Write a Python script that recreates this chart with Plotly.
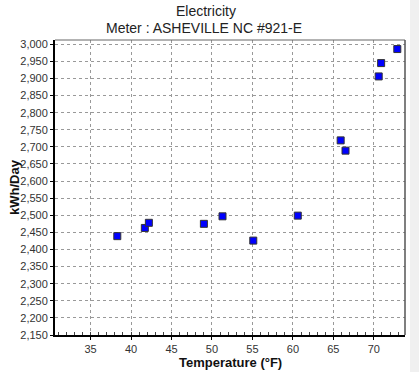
import plotly.graph_objects as go

temperature_f = [38.3, 41.7, 42.2, 49.0, 51.3, 55.1, 60.6, 65.9, 66.5, 70.6, 70.9, 72.9]
kwh_per_day = [2439, 2463, 2478, 2475, 2497, 2426, 2499, 2719, 2689, 2906, 2945, 2986]

x_ticks = [35, 40, 45, 50, 55, 60, 65, 70]
y_ticks = list(range(2150, 3001, 50))

title_line1 = "Electricity"
title_line2 = "Meter : ASHEVILLE NC #921-E"
x_title = "Temperature (°F)"
y_title = "kWh/Day"

FONT = "Liberation Sans, Arial, sans-serif"

fig = go.Figure()
fig.add_trace(go.Scatter(
    x=temperature_f, y=kwh_per_day, mode="markers",
    marker=dict(symbol="square", size=7, color="#0000ff",
                line=dict(color="#333333", width=1)),
    showlegend=False, hoverinfo="x+y",
))

grid = dict(showgrid=True, gridcolor="#999999", gridwidth=1, griddash="3px,3px",
            zeroline=False)

fig.update_layout(
    width=419, height=372,
    margin=dict(l=55, r=14, t=40, b=37, pad=0),
    paper_bgcolor="white", plot_bgcolor="white",
    font=dict(family=FONT, size=11, color="#333333"),
    xaxis=dict(range=[30.6, 73.85], tickvals=x_ticks, ticks="outside", ticklen=3,
               tickcolor="#000", showline=True, linecolor="#000", linewidth=2,
               tickfont=dict(size=11, color="#333"),
               minor=dict(dtick=1, tick0=0, ticks="inside", ticklen=3,
                          tickcolor="#444", showgrid=False),
               **grid),
    yaxis=dict(range=[2150, 3012.5], tickvals=y_ticks, tickformat=",d",
               ticks="outside", ticklen=3, tickcolor="#000",
               showline=True, linecolor="#000", linewidth=2,
               tickfont=dict(size=11, color="#333"),
               **grid),
    shapes=[
        dict(type="line", xref="paper", yref="paper", x0=0, x1=1, y0=1, y1=1,
             line=dict(color="#666666", width=1)),
        dict(type="line", xref="paper", yref="paper", x0=1, x1=1, y0=0, y1=1,
             line=dict(color="#555555", width=1.5)),
        dict(type="rect", xref="paper", yref="paper", x0=1.0143, x1=1.1,
             y0=-0.2, y1=1.2, fillcolor="#f0f0f0", line=dict(width=0), layer="below"),
    ],
    annotations=[
        dict(text=title_line1, xref="paper", yref="paper", x=0.43, y=1.0,
             yshift=19, xanchor="center", yanchor="bottom", showarrow=False,
             font=dict(family=FONT, size=14, color="#222")),
        dict(text=title_line2, xref="paper", yref="paper", x=0.427, y=1.0,
             yshift=2, xanchor="center", yanchor="bottom", showarrow=False,
             font=dict(family=FONT, size=14, color="#222")),
        dict(text="<b>" + x_title + "</b>", xref="paper", yref="paper", x=0.5, y=0,
             yshift=-18, xanchor="center", yanchor="top", showarrow=False,
             font=dict(family=FONT, size=13, color="#111")),
        dict(text="<b>" + y_title + "</b>", xref="paper", yref="paper", x=0, y=0.5,
             xshift=-31, xanchor="right", yanchor="middle", textangle=-90,
             showarrow=False, font=dict(family=FONT, size=13, color="#111")),
    ],
)

fig.write_html("out.html", config={"displayModeBar": False},
               post_script="document.body.style.margin='0';document.body.style.padding='0';")
